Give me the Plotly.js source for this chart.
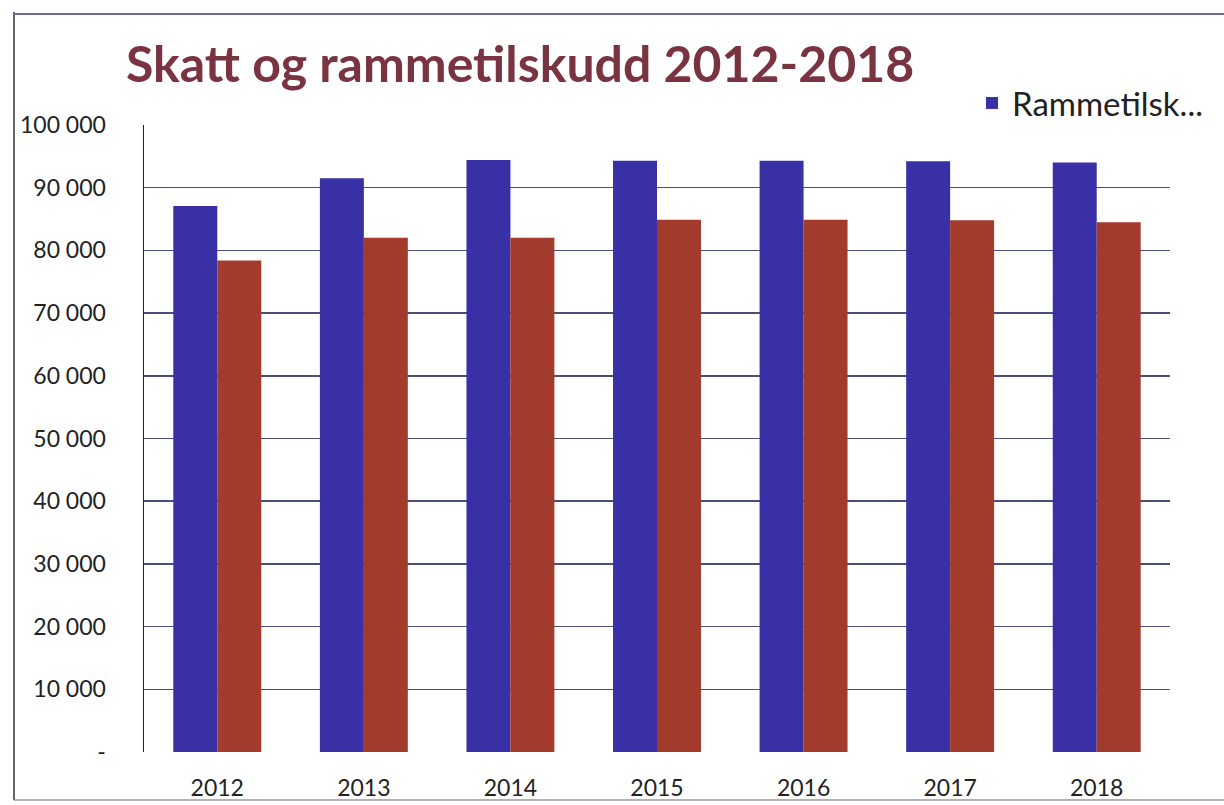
<!DOCTYPE html>
<html>
<head>
<meta charset="utf-8">
<script src="https://cdn.plot.ly/plotly-3.0.1.min.js"></script>
<style>html,body{margin:0;padding:0;background:#fff;}#chart{width:1224px;height:805px;}</style>
</head>
<body>
<div id="chart"></div>
<script>
var years = ["2012","2013","2014","2015","2016","2017","2018"];
var rammetilskudd = [87100, 91500, 94400, 94300, 94300, 94200, 94000];
var skatt = [78400, 82000, 82000, 84900, 84900, 84800, 84500];
var yTickVals = [0,10000,20000,30000,40000,50000,60000,70000,80000,90000,100000];
var yTickText = ["-","10 000","20 000","30 000","40 000","50 000","60 000","70 000","80 000","90 000","100 000"];

var traces = [
  {type:"bar", x:years, y:rammetilskudd, name:"Rammetilsk...", marker:{color:"#3a30a6"}},
  {type:"bar", x:years, y:skatt, name:"Skatt", showlegend:false, marker:{color:"#a33b2c"}}
];
var layout = {
  width:1224, height:805,
  margin:{l:144, r:54, t:125, b:53},
  paper_bgcolor:"#ffffff", plot_bgcolor:"#ffffff",
  font:{family:"Lato, 'Open Sans', sans-serif", color:"#222", size:22},
  title:{text:"<b>Skatt og rammetilskudd 2012-2018</b>", font:{family:"Lato, 'Open Sans', sans-serif", size:50, color:"#7a3340"}, x:126/1224, xanchor:"left", y:1-64/805, yanchor:"middle"},
  barmode:"group", bargap:0.4, bargroupgap:0,
  xaxis:{type:"category", showgrid:false, zeroline:false, showline:false, ticks:"", ticklabelstandoff:20, tickfont:{size:23, color:"#222"}},
  yaxis:{range:[0,100000], tickvals:yTickVals, ticktext:yTickText, showgrid:true, gridcolor:"#4a4f78", gridwidth:1.5, zeroline:false, showline:true, linecolor:"#222", linewidth:1.5, ticks:"", ticklabelstandoff:32, tickfont:{size:23, color:"#222"}},
  showlegend:true,
  legend:{x:(972-144)/1026, y:1+22/627, xanchor:"left", yanchor:"middle", font:{size:33, color:"#222"}, bgcolor:"rgba(0,0,0,0)", itemwidth:30},
  shapes:[
    {type:"line", xref:"paper", yref:"paper", x0:(14-144)/1026, x1:(14-144)/1026, y0:(752-800)/627, y1:1+(125-12)/627, line:{color:"#333", width:1.5}},
    {type:"line", xref:"paper", yref:"paper", x0:(14-144)/1026, x1:(1224-144)/1026, y0:1+(125-14)/627, y1:1+(125-14)/627, line:{color:"#6a6aa8", width:2}},
    {type:"line", xref:"paper", yref:"paper", x0:(14-144)/1026, x1:(1224-144)/1026, y0:(752-800)/627, y1:(752-800)/627, line:{color:"#999", width:1.5}}
  ]
};
Plotly.newPlot("chart", traces, layout, {displayModeBar:false, staticPlot:true});
</script>
</body>
</html>
